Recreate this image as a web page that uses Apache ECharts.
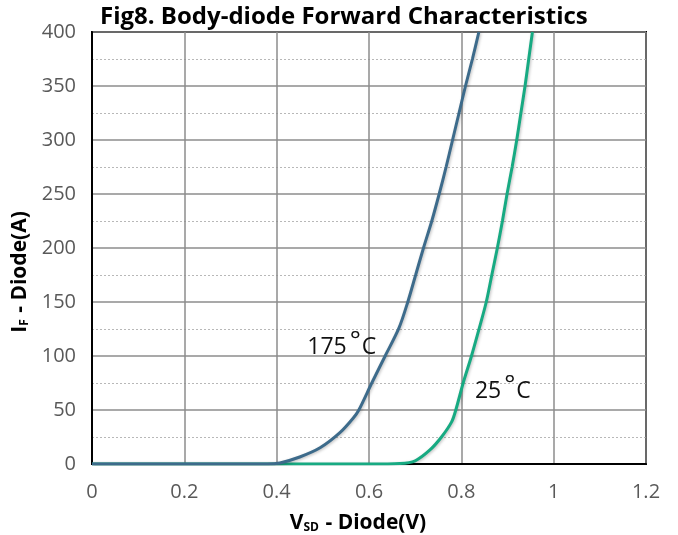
<!DOCTYPE html>
<html>
<head>
<meta charset="utf-8">
<script src="https://cdn.jsdelivr.net/npm/echarts@6/dist/echarts.min.js"></script>
<style>html,body{margin:0;padding:0;background:#fff;}#c{width:678px;height:535px;}</style>
</head>
<body>
<div id="c"></div>
<script>
var titleText = 'Fig8. Body-diode Forward Characteristics';
var xTicks = [0, 0.2, 0.4, 0.6, 0.8, 1, 1.2];
var yTicks = [0, 50, 100, 150, 200, 250, 300, 350, 400];
var v175 = [0, 0.38, 0.407, 0.45, 0.494, 0.537, 0.566, 0.578, 0.606, 0.635, 0.665, 0.684, 0.701, 0.718, 0.736, 0.752, 0.767, 0.781, 0.795, 0.809, 0.824, 0.838];
var i175 = [0, 0, 1, 6.5, 15, 29, 42.6, 50, 75, 100, 126, 150, 175, 200, 225, 250, 275, 300, 325, 350, 375, 400];
var v25 = [0, 0.6, 0.667, 0.7, 0.732, 0.757, 0.779, 0.788, 0.804, 0.822, 0.839, 0.854, 0.866, 0.878, 0.889, 0.899, 0.910, 0.920, 0.929, 0.938, 0.946, 0.954];
var i25 = [0, 0, 0.5, 3, 13, 25, 39, 50, 75, 100, 126, 150, 175, 200, 225, 250, 275, 300, 325, 350, 375, 400];

function pairs(xs, ys) { return xs.map(function (x, k) { return [x, ys[k]]; }); }

var chart = echarts.init(document.getElementById('c'));
var tickFont = {fontFamily: 'Open Sans', fontSize: 20, color: '#595959'};
var lblRich = {
  n: {fontFamily: 'Open Sans', fontSize: 23, color: '#111'},
  d: {fontFamily: 'Open Sans', fontSize: 26, color: '#111', verticalAlign: 'top', padding: [0, 1, 12, 3]}
};
var nameRich = {
  b: {fontFamily: 'Open Sans', fontWeight: 'bold', fontSize: 21, color: '#000'},
  s: {fontFamily: 'Open Sans', fontWeight: 'bold', fontSize: 12, color: '#000', verticalAlign: 'bottom', padding: [9, 1, 0, 0]}
};
chart.setOption({
  animation: false,
  title: {
    text: titleText, left: 95, top: 0,
    textStyle: {fontFamily: 'Open Sans', fontWeight: 'bold', fontSize: 24, color: '#000'}
  },
  grid: {left: 92, top: 32, right: 32, bottom: 71, show: true, borderColor: '#000', borderWidth: 2,
    containLabel: false, outerBoundsMode: 'none'},
  xAxis: {
    type: 'value', min: 0, max: 1.2, interval: 0.2,
    axisLine: {show: true, lineStyle: {color: '#000', width: 2}},
    axisTick: {show: false},
    axisLabel: Object.assign({margin: 18, formatter: function (v) { return String(+v.toFixed(1)); }}, tickFont),
    splitLine: {show: true, lineStyle: {color: '#8c8c8c', width: 1.5}},
    name: '{b|V}{s|SD}{b| - Diode(V)}', nameLocation: 'middle', nameGap: 49,
    nameTextStyle: {rich: nameRich, padding: [0, 22, 0, 0]}
  },
  yAxis: {
    type: 'value', min: 0, max: 400, interval: 50,
    axisLine: {show: true, lineStyle: {color: '#000', width: 2}},
    axisTick: {show: false},
    axisLabel: Object.assign({margin: 16}, tickFont),
    splitLine: {show: true, lineStyle: {color: '#8c8c8c', width: 1.5}},
    minorTick: {show: false, splitNumber: 2},
    minorSplitLine: {show: true, lineStyle: {color: '#b8b8b8', width: 1, type: [2, 2]}},
    name: '{b|I}{s|F}{b| - Diode(A)}', nameLocation: 'middle', nameGap: 58,
    nameTextStyle: {rich: nameRich, padding: [0, 48, 0, 0]}
  },
  series: [
    {
      type: 'line', name: '25C', data: pairs(v25, i25), showSymbol: false, smooth: 0.3,
      lineStyle: {color: '#17aa82', width: 3, shadowColor: 'rgba(0,0,0,0.25)', shadowBlur: 3, shadowOffsetX: 1, shadowOffsetY: 1},
      markPoint: {symbol: 'circle', symbolSize: 0, data: [{coord: [0.89, 67],
        label: {show: true, formatter: '{n|25}{d|°}{n|C}', rich: lblRich}}]}
    },
    {
      type: 'line', name: '175C', data: pairs(v175, i175), showSymbol: false, smooth: 0.3,
      lineStyle: {color: '#3d6b8b', width: 3, shadowColor: 'rgba(0,0,0,0.25)', shadowBlur: 3, shadowOffsetX: 1, shadowOffsetY: 1},
      markPoint: {symbol: 'circle', symbolSize: 0, data: [{coord: [0.541, 108],
        label: {show: true, formatter: '{n|175}{d|°}{n|C}', rich: lblRich}}]}
    }
  ]
});
</script>
</body>
</html>
